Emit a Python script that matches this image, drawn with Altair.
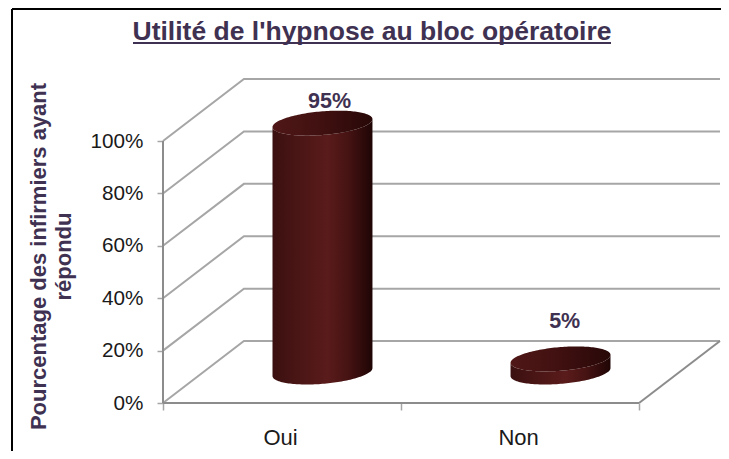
import numpy as np
import pandas as pd
import altair as alt

title_text = ["Utilité de l'hypnose au bloc opératoire"]
categories = ["Oui", "Non"]
values = [95, 5]
labels = ["95%", "5%"]
positions = [0.5, 1.5]
grid_levels = [0, 20, 40, 60, 80, 100]

# oblique projection constants, in scale units
DX, DY = 0.34, 23.66
A, B, C = 0.199, 0.067, 4.77
X_MAX, Y_MAX = 2.34, 123.3
GRAY = "#a6a6a6"
TXT = "#3f3151"
FONT = "Liberation Sans"

x_scale = alt.Scale(domain=[0, X_MAX], nice=False, zero=False)
y_scale = alt.Scale(domain=[0, Y_MAX], nice=False, zero=False)

grid_rows = []
for g in grid_levels:
    grid_rows += [
        {"g": g, "o": 0, "x": 0, "y": g},
        {"g": g, "o": 1, "x": DX, "y": g + DY},
        {"g": g, "o": 2, "x": X_MAX, "y": g + DY},
    ]
grid = pd.DataFrame(grid_rows)
edges = pd.DataFrame([
    {"g": "y", "o": 0, "x": 0, "y": 0}, {"g": "y", "o": 1, "x": 0, "y": 100},
    {"g": "x", "o": 0, "x": 0, "y": 0}, {"g": "x", "o": 1, "x": 2, "y": 0},
    {"g": "s", "o": 0, "x": 2, "y": 0}, {"g": "s", "o": 1, "x": X_MAX, "y": DY},
])

def linear(stops):
    return alt.Gradient(
        gradient="linear", x1=0, x2=1, y1=0, y2=0,
        stops=[alt.GradientStop(offset=o, color=c) for o, c in stops],
    )

BODY = linear([(0, "#3b1010"), (0.2, "#471414"), (0.55, "#5a1b1b"), (0.75, "#471313"), (1, "#1f0505")])
TOP = linear([(0, "#501717"), (0.5, "#401010"), (1, "#280808")])

def cylinder(pos, val):
    R = np.hypot(A, B)
    delta = np.arctan2(B, A)
    phi = np.linspace(0, np.pi, 81)
    up = C * np.sin(delta + phi)
    down = C * np.sin(delta - phi)
    cx = pos + DX / 2
    base = DY / 2
    xs = cx + R * np.cos(phi)
    lo = np.minimum(up, down)
    hi = np.maximum(up, down)
    body = pd.DataFrame({"x": xs, "y": base + val + lo, "y2": base + lo})
    top = pd.DataFrame({"x": xs, "y": base + val + hi, "y2": base + val + lo})
    enc = dict(x=alt.X("x:Q", scale=x_scale), y=alt.Y("y:Q", scale=y_scale), y2="y2:Q")
    return [
        alt.Chart(body).mark_area(color=BODY).encode(**enc),
        alt.Chart(top).mark_area(color=TOP).encode(**enc),
    ]

axis_x = alt.Axis(
    values=[0, 0.5, 1, 1.5, 2], title=None, grid=False, domain=False,
    labelExpr="datum.value==0.5?'Oui':datum.value==1.5?'Non':''",
    tickOpacity=alt.condition("datum.value==0.5||datum.value==1.5", alt.value(0), alt.value(1)),
    tickColor=GRAY, tickWidth=1.5, tickSize=7, labelPadding=17, labelFontSize=22, labelOffset=-2,
    labelFont=FONT, labelColor="#1a1a1a", labelFlush=False, labelOverlap=False,
)
axis_y = alt.Axis(
    values=grid_levels, labelExpr="datum.value+'%'", grid=False, domain=False,
    tickColor=GRAY, tickWidth=1.5, tickSize=6, labelPadding=14, labelFontSize=20.7,
    labelFont=FONT, labelColor="#1a1a1a",
    title=["Pourcentage des infirmiers ayant", "répondu"],
    titleFont=FONT, titleFontSize=22, titleFontWeight="bold", titleColor=TXT,
    titleX=-125, titleY=176, titleLineHeight=25, titleAnchor="middle", titleBaseline="middle",
)

base = alt.Chart(grid).mark_line(color=GRAY, strokeWidth=2).encode(
    x=alt.X("x:Q", scale=x_scale, axis=axis_x),
    y=alt.Y("y:Q", scale=y_scale, axis=axis_y),
    detail="g:N", order="o:Q",
)
edge = alt.Chart(edges).mark_line(color="#8c8c8c", strokeWidth=2).encode(
    x=alt.X("x:Q", scale=x_scale), y=alt.Y("y:Q", scale=y_scale), detail="g:N", order="o:Q",
)

label_df = pd.DataFrame({"x": [p + DX / 2 + 0.03 for p in positions],
                         "y": [v + DY / 2 for v in values], "t": labels})
lab_hi = alt.Chart(label_df.iloc[[0]]).mark_text(
    font=FONT, fontSize=21.5, fontWeight="bold", color=TXT, dy=-21
).encode(x=alt.X("x:Q", scale=x_scale), y=alt.Y("y:Q", scale=y_scale), text="t:N")
lab_lo = alt.Chart(label_df.iloc[[1]]).mark_text(
    font=FONT, fontSize=21.5, fontWeight="bold", color=TXT, dy=-37, dx=-3
).encode(x=alt.X("x:Q", scale=x_scale), y=alt.Y("y:Q", scale=y_scale), text="t:N")

one = pd.DataFrame({"a": [0]})
frame_top = alt.Chart(one).mark_rule(color="#000000", strokeWidth=2).encode(
    x=alt.value(-151), x2=alt.value(566), y=alt.value(-71)
)
frame_left = alt.Chart(one).mark_rule(color="#000000", strokeWidth=2).encode(
    x=alt.value(-151), y=alt.value(-71), y2=alt.value(380)
)
underline = alt.Chart(one).mark_rule(color=TXT, strokeWidth=2).encode(
    x=alt.value(-30), x2=alt.value(448), y=alt.value(-37)
)
title_mark = alt.Chart(pd.DataFrame({"t": title_text})).mark_text(
    font=FONT, fontSize=26.5, fontWeight="bold", color=TXT, align="center", baseline="alphabetic"
).encode(x=alt.value(209), y=alt.value(-40.5), text="t:N")

layers = [frame_top, frame_left, base, edge]
for p, v in zip(positions, values):
    layers += cylinder(p, v)
layers += [lab_hi, lab_lo, title_mark, underline]

chart = alt.layer(*layers).properties(
    width=557, height=323,
    padding={"left": 155, "top": 72, "right": 1, "bottom": 48},
    autosize=alt.AutoSizeParams(type="none"),
).configure_view(stroke=None)

chart.save("out.html", embed_options={"renderer": "svg", "actions": False})
